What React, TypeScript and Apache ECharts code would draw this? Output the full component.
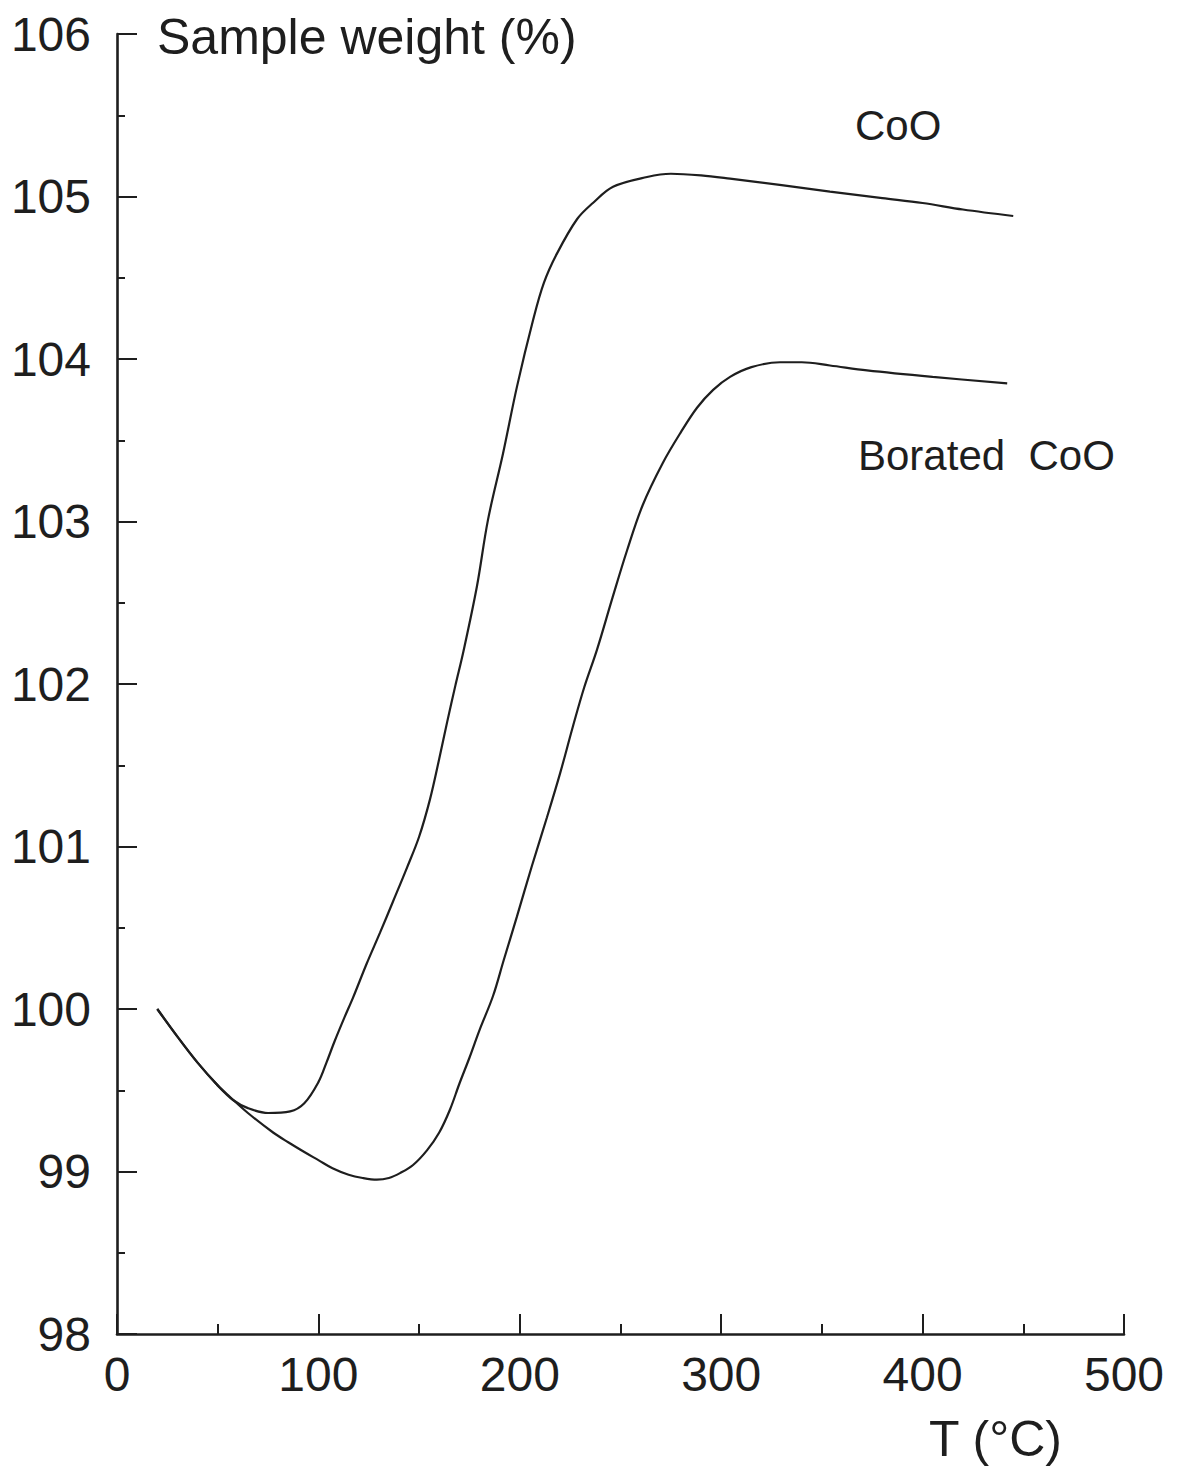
import React, { useEffect, useRef } from "react";
import * as echarts from "echarts";

const xTicks = [0, 100, 200, 300, 400, 500];
const yTicks = [98, 99, 100, 101, 102, 103, 104, 105, 106];

const cooT = [20, 30, 40, 50, 57.6, 65, 75, 86, 93, 100, 104, 108, 113, 117.2, 124, 130.6, 137, 144, 150, 155.4, 160, 164, 168, 172, 178.7, 184.2, 191.7, 198.6, 206.6, 212, 218.5, 228.4, 236.3, 246.3, 263.2, 275, 290, 304.4, 330, 354, 380, 400, 420, 445];
const cooW = [100.0, 99.83, 99.67, 99.53, 99.44, 99.39, 99.36, 99.37, 99.42, 99.55, 99.67, 99.8, 99.95, 100.07, 100.28, 100.47, 100.66, 100.87, 101.06, 101.29, 101.54, 101.77, 101.99, 102.2, 102.6, 103.01, 103.42, 103.83, 104.24, 104.47, 104.65, 104.86, 104.96, 105.06, 105.12, 105.14, 105.13, 105.11, 105.07, 105.03, 104.99, 104.96, 104.92, 104.88];

const borT = [20, 30, 40, 50, 56, 65, 77.5, 85, 93, 100, 107, 115, 122, 129, 135, 140.5, 147, 153.9, 160, 165.3, 170, 175, 180, 186.7, 192, 198.6, 206, 213.5, 220, 226.4, 232, 238.3, 246, 253.2, 261, 271, 280, 288, 296, 304.4, 315, 329.2, 340, 354, 372.4, 405, 442];
const borW = [100.0, 99.83, 99.67, 99.53, 99.46, 99.36, 99.24, 99.18, 99.12, 99.07, 99.02, 98.98, 98.96, 98.95, 98.96, 98.99, 99.04, 99.13, 99.24, 99.38, 99.54, 99.7, 99.87, 100.08, 100.3, 100.57, 100.88, 101.18, 101.45, 101.74, 101.98, 102.21, 102.53, 102.82, 103.1, 103.36, 103.55, 103.7, 103.81, 103.89, 103.95, 103.98, 103.98, 103.96, 103.93, 103.89, 103.85];

const yTitle = "Sample weight (%)";
const xTitle = "T (°C)";
const labelCoO = "CoO";
const labelBorated = "Borated  CoO";

const FONT = "'Liberation Sans', Arial, Helvetica, sans-serif";
const INK = "#1e1e1e";

export default function App() {
  const ref = useRef<HTMLDivElement>(null);
  useEffect(() => {
    if (!ref.current) return;
    const chart = echarts.init(ref.current, undefined, { renderer: "svg" });
    const mk = (t: number[], w: number[]) => t.map((v, i) => [v, w[i]]);
    chart.setOption({
      animation: false,
      backgroundColor: "#ffffff",
      grid: { left: 117, right: 59, top: 34, bottom: 136, containLabel: false },
      xAxis: {
        type: "value",
        min: xTicks[0],
        max: xTicks[xTicks.length - 1],
        interval: 100,
        axisLine: { show: true, onZero: false, lineStyle: { color: INK, width: 2.6 } },
        axisTick: { show: true, inside: true, length: 20, lineStyle: { color: INK, width: 2 } },
        minorTick: { show: true, splitNumber: 2, length: 10, lineStyle: { color: INK, width: 2 } },
        splitLine: { show: false },
        axisLabel: { color: INK, fontSize: 48, fontFamily: FONT, margin: 16 },
      },
      yAxis: {
        type: "value",
        min: yTicks[0],
        max: yTicks[yTicks.length - 1],
        interval: 1,
        axisLine: { show: true, onZero: false, lineStyle: { color: INK, width: 2.6 } },
        axisTick: { show: true, inside: true, length: 20, lineStyle: { color: INK, width: 2 } },
        minorTick: { show: true, splitNumber: 2, length: 8, lineStyle: { color: INK, width: 2 } },
        splitLine: { show: false },
        axisLabel: { color: INK, fontSize: 48, fontFamily: FONT, margin: 26 },
      },
      series: [
        {
          name: "CoO",
          type: "line",
          data: mk(cooT, cooW),
          showSymbol: false,
          smooth: 0.35,
          lineStyle: { color: INK, width: 2.2 },
        },
        {
          name: "Borated CoO",
          type: "line",
          data: mk(borT, borW),
          showSymbol: false,
          smooth: 0.35,
          lineStyle: { color: INK, width: 2.2 },
        },
      ],
      graphic: [
        {
          type: "text",
          left: 157,
          top: 12,
          style: { text: yTitle, fontSize: 50, fontFamily: FONT, fill: INK },
        },
        {
          type: "text",
          left: 929,
          top: 1414,
          style: { text: xTitle, fontSize: 50, fontFamily: FONT, fill: INK },
        },
        {
          type: "text",
          left: 855,
          top: 104,
          style: { text: labelCoO, fontSize: 42, fontFamily: FONT, fill: INK },
        },
        {
          type: "text",
          left: 858,
          top: 434,
          style: { text: labelBorated, fontSize: 42, fontFamily: FONT, fill: INK, whiteSpace: "pre" },
        },
      ],
    });
    return () => chart.dispose();
  }, []);
  return (
    <div
      ref={ref}
      style={{ position: "absolute", left: 0, top: 0, width: 1183, height: 1470, background: "#fff" }}
    />
  );
}
